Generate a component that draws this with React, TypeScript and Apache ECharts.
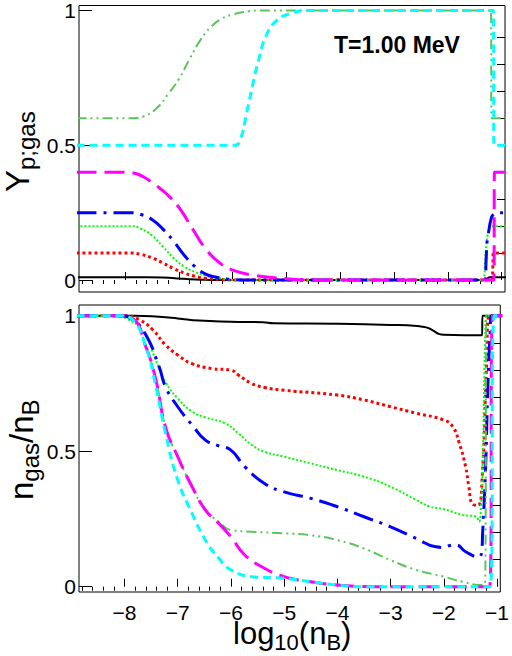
import React, { useEffect, useRef } from 'react';
import * as echarts from 'echarts';

const FONT = "'Liberation Sans', Arial, Helvetica, sans-serif";

// axis extents
const X_MIN = -8.855;
const X_MAX = -0.939;
const TOP_Y_MIN = -0.0444;
const TOP_Y_MAX = 1.0185;
const BOT_Y_MIN = -0.0196;
const BOT_Y_MAX = 1.0395;

// tick values
const xMajorTicks = [-8, -7, -6, -5, -4, -3, -2, -1];
const xMinorTicks = [
  -8.8, -8.6, -8.4, -8.2, -7.8, -7.6, -7.4, -7.2, -6.8, -6.6, -6.4, -6.2,
  -5.8, -5.6, -5.4, -5.2, -4.8, -4.6, -4.4, -4.2, -3.8, -3.6, -3.4, -3.2,
  -2.8, -2.6, -2.4, -2.2, -1.8, -1.6, -1.4, -1.2,
];
const yMajorTicks = [0, 0.5, 1];
const yMinorTicks = [0.1, 0.2, 0.3, 0.4, 0.6, 0.7, 0.8, 0.9];

// ---- top panel: Y_p;gas ----
const topBlack = [[-8.9, 0.01], [-7.6, 0.01], [-7.3, 0.009], [-7.0, 0.006], [-6.8, 0.003], [-6.5, 0.001], [-6.2, 0], [-1.28, 0], [-1.25, 0.008], [-1.22, 0.01], [-0.9, 0.01]];
const topRed = [[-8.9, 0.1], [-7.9, 0.1], [-7.7, 0.095], [-7.5, 0.082], [-7.3, 0.064], [-7.1, 0.043], [-6.9, 0.026], [-6.7, 0.014], [-6.5, 0.006], [-6.2, 0.002], [-5.9, 0], [-1.18, 0], [-1.165, 0.05], [-1.155, 0.1], [-0.9, 0.1]];
const topGreen = [[-8.9, 0.2], [-7.9, 0.2], [-7.7, 0.19], [-7.5, 0.165], [-7.3, 0.125], [-7.1, 0.082], [-6.9, 0.05], [-6.7, 0.03], [-6.5, 0.016], [-6.2, 0.005], [-5.9, 0], [-1.35, 0], [-1.3, 0.1], [-1.26, 0.17], [-1.22, 0.195], [-1.18, 0.2], [-0.9, 0.2]];
const topBlue = [[-8.9, 0.25], [-7.9, 0.25], [-7.7, 0.243], [-7.5, 0.225], [-7.3, 0.19], [-7.1, 0.145], [-6.9, 0.092], [-6.7, 0.05], [-6.5, 0.022], [-6.3, 0.01], [-6.0, 0.002], [-5.7, 0], [-1.31, 0], [-1.29, 0.074], [-1.27, 0.148], [-1.25, 0.17], [-1.2, 0.225], [-1.15, 0.245], [-1.09, 0.25], [-0.9, 0.25]];
const topDdg = [[-8.9, 0.6], [-7.9, 0.6], [-7.66, 0.607], [-7.4, 0.64], [-7.2, 0.69], [-7.0, 0.745], [-6.8, 0.82], [-6.6, 0.89], [-6.4, 0.94], [-6.2, 0.97], [-6.0, 0.985], [-5.7, 0.997], [-5.5, 1.0], [-1.2, 1.0], [-1.19, 0.6], [-0.9, 0.6]];
const topMagenta = [[-8.9, 0.4], [-7.97, 0.4], [-7.8, 0.395], [-7.66, 0.383], [-7.45, 0.355], [-7.23, 0.32], [-7.0, 0.27], [-6.73, 0.185], [-6.48, 0.11], [-6.23, 0.062], [-6.0, 0.037], [-5.61, 0.018], [-5.0, 0.005], [-4.5, 0], [-1.145, 0], [-1.135, 0.4], [-0.9, 0.4]];
const topCyan = [[-8.9, 0.5], [-5.96, 0.5], [-5.86, 0.52], [-5.74, 0.62], [-5.61, 0.74], [-5.52, 0.815], [-5.37, 0.91], [-5.18, 0.963], [-4.94, 0.988], [-4.6, 1.0], [-1.155, 1.0], [-1.145, 0.5], [-0.9, 0.5]];

// ---- bottom panel: n_gas/n_B ----
const botBlack = [[-8.9, 1], [-7.8, 1], [-7.35, 0.996], [-7.0, 0.99], [-6.6, 0.982], [-6.0, 0.978], [-5.4, 0.976], [-5.2, 0.972], [-4.0, 0.97], [-3.0, 0.966], [-2.5, 0.962], [-2.33, 0.957], [-2.2, 0.945], [-2.08, 0.932], [-2.0, 0.93], [-1.28, 0.928], [-1.275, 1], [-0.9, 1]];
const botRed = [[-8.9, 1], [-8.0, 1], [-7.72, 0.985], [-7.47, 0.948], [-7.23, 0.892], [-7.0, 0.855], [-6.73, 0.823], [-6.36, 0.805], [-6.0, 0.799], [-5.86, 0.781], [-5.61, 0.75], [-5.37, 0.735], [-5.0, 0.725], [-4.0, 0.707], [-3.5, 0.689], [-3.0, 0.664], [-2.52, 0.64], [-2.0, 0.615], [-1.83, 0.59], [-1.71, 0.53], [-1.59, 0.443], [-1.53, 0.37], [-1.46, 0.305], [-1.36, 0.3], [-1.28, 0.4], [-1.2, 0.8], [-1.14, 1], [-0.9, 1]];
const botGreen = [[-8.9, 1], [-8.2, 1], [-7.97, 0.99], [-7.66, 0.942], [-7.41, 0.836], [-7.23, 0.756], [-7.0, 0.695], [-6.73, 0.646], [-6.48, 0.625], [-6.11, 0.603], [-5.86, 0.566], [-5.61, 0.523], [-5.37, 0.498], [-5.0, 0.48], [-4.5, 0.455], [-4.0, 0.43], [-3.5, 0.406], [-3.0, 0.369], [-2.52, 0.32], [-2.27, 0.296], [-2.0, 0.286], [-1.65, 0.265], [-1.4, 0.259], [-1.34, 0.24], [-1.3, 0.3], [-1.27, 0.45], [-1.22, 0.95], [-1.2, 1], [-0.9, 1]];
const botBlue = [[-8.9, 1], [-8.1, 1], [-7.85, 0.985], [-7.6, 0.93], [-7.35, 0.812], [-7.23, 0.738], [-7.0, 0.664], [-6.73, 0.597], [-6.48, 0.541], [-6.23, 0.52], [-6.0, 0.504], [-5.74, 0.443], [-5.37, 0.381], [-5.0, 0.35], [-4.5, 0.326], [-4.0, 0.295], [-3.5, 0.258], [-3.0, 0.221], [-2.52, 0.178], [-2.15, 0.147], [-2.0, 0.145], [-1.88, 0.152], [-1.77, 0.154], [-1.59, 0.129], [-1.34, 0.11], [-1.29, 0.13], [-1.27, 0.2], [-1.22, 0.41], [-1.17, 0.75], [-1.13, 0.935], [-1.1, 1], [-0.9, 1]];
const botDdg = [[-8.9, 1], [-8.1, 1], [-7.85, 0.99], [-7.6, 0.886], [-7.41, 0.763], [-7.23, 0.59], [-7.0, 0.48], [-6.73, 0.369], [-6.48, 0.283], [-6.23, 0.24], [-6.0, 0.209], [-5.61, 0.203], [-5.0, 0.197], [-4.5, 0.19], [-4.0, 0.172], [-3.5, 0.141], [-3.0, 0.098], [-2.52, 0.062], [-2.0, 0.037], [-1.65, 0.018], [-1.28, 0.006], [-1.22, 0.03], [-1.2, 1], [-0.9, 1]];
const botMagenta = [[-8.9, 1], [-8.1, 1], [-7.85, 0.99], [-7.6, 0.886], [-7.41, 0.763], [-7.23, 0.59], [-7.0, 0.48], [-6.73, 0.369], [-6.48, 0.283], [-6.23, 0.234], [-6.0, 0.184], [-5.74, 0.117], [-5.37, 0.068], [-5.0, 0.037], [-4.5, 0.018], [-4.0, 0.006], [-3.5, 0.001], [-3.0, 0], [-1.14, 0], [-1.08, 1], [-0.9, 1]];
const botCyan = [[-8.9, 1], [-8.1, 1], [-7.85, 0.985], [-7.6, 0.886], [-7.41, 0.738], [-7.23, 0.566], [-7.0, 0.394], [-6.73, 0.27], [-6.48, 0.172], [-6.23, 0.105], [-6.0, 0.062], [-5.61, 0.037], [-5.0, 0.031], [-4.5, 0.018], [-4.0, 0.006], [-3.5, 0], [-1.13, 0], [-1.05, 1], [-0.9, 1]];

const topData = [topBlack, topRed, topGreen, topBlue, topDdg, topMagenta, topCyan];
const botData = [botBlack, botRed, botGreen, botBlue, botDdg, botMagenta, botCyan];

// line styles (color, width, dash) for the seven curves
const lineStyles = [
  { color: '#000000', width: 2, type: 'solid' as any },
  { color: '#ff0000', width: 3, type: [3, 3] },
  { color: '#00ff00', width: 2, type: [2, 2] },
  { color: '#0000ff', width: 3, type: [20, 7, 3, 7] },
  { color: '#5cc45c', width: 2, type: [10, 4, 2, 4, 2, 4] },
  { color: '#ff00ff', width: 3, type: [20, 8] },
  { color: '#00ffff', width: 3, type: [8, 5] },
];

const GRID_LEFT = 79;
const GRID_WIDTH = 426;

function fmtX(v: number) {
  return v < 0 ? '\u2212' + Math.abs(v) : String(v);
}

function makeXAxes(gridIndex: number, showLabels: boolean) {
  return [
    {
      type: 'value', gridIndex, min: X_MIN, max: X_MAX,
      axisLine: { show: false }, splitLine: { show: false },
      axisTick: { show: true, inside: true, length: 8, customValues: xMajorTicks, lineStyle: { color: '#000', width: 1 } },
      axisLabel: { show: showLabels, customValues: xMajorTicks, formatter: fmtX, fontSize: 21, lineHeight: 16, fontFamily: FONT, color: '#000', margin: 12.5 },
    },
    {
      type: 'value', gridIndex, min: X_MIN, max: X_MAX,
      axisLine: { show: false }, splitLine: { show: false },
      axisTick: { show: true, inside: true, length: 4, customValues: xMinorTicks, lineStyle: { color: '#000', width: 1 } },
      axisLabel: { show: false },
    },
  ];
}

function makeYAxes(gridIndex: number, min: number, max: number) {
  return [
    {
      type: 'value', gridIndex, min, max,
      axisLine: { show: false }, splitLine: { show: false },
      axisTick: { show: true, inside: true, length: 13, customValues: yMajorTicks, lineStyle: { color: '#000', width: 1 } },
      axisLabel: { show: true, customValues: yMajorTicks, formatter: (v: number) => String(v), fontSize: 21, fontFamily: FONT, color: '#000', margin: 3 },
    },
    {
      type: 'value', gridIndex, min, max,
      axisLine: { show: false }, splitLine: { show: false },
      axisTick: { show: true, inside: true, length: 8, customValues: yMinorTicks, lineStyle: { color: '#000', width: 1 } },
      axisLabel: { show: false },
    },
  ];
}

type Seg = { t: string; size: number; dy: number };

function buildTitle(segs: Seg[], x: number, y: number, rotation: number) {
  const canvas = document.createElement('canvas');
  const ctx = canvas.getContext('2d')!;
  let cx = 0;
  const children: any[] = [];
  for (const s of segs) {
    children.push({
      type: 'text',
      x: cx,
      y: s.dy - 0.3465 * s.size,
      style: {
        text: s.t, fontSize: s.size, fontFamily: FONT, fill: '#000', lineHeight: Math.round(s.size * 0.7),
        align: 'left', verticalAlign: 'middle', textAlign: 'left', textVerticalAlign: 'middle',
      },
    });
    ctx.font = `${s.size}px ${FONT}`;
    cx += ctx.measureText(s.t).width;
  }
  return { type: 'group', x, y, rotation, children };
}

export default function App() {
  const ref = useRef<HTMLDivElement>(null);
  useEffect(() => {
    if (!ref.current) return;
    const chart = echarts.init(ref.current, undefined, { renderer: 'svg' });
    const series: any[] = [];
    topData.forEach((d, i) => {
      series.push({
        type: 'line', xAxisIndex: 0, yAxisIndex: 0, data: d, showSymbol: false, symbol: 'none',
        smooth: 0.5, clip: true, lineStyle: lineStyles[i], z: 2 + i,
      });
    });
    botData.forEach((d, i) => {
      series.push({
        type: 'line', xAxisIndex: 2, yAxisIndex: 2, data: d, showSymbol: false, symbol: 'none',
        smooth: 0.5, clip: true, lineStyle: lineStyles[i], z: 2 + i,
      });
    });
    chart.setOption({
      animation: false,
      backgroundColor: '#ffffff',
      grid: [
        { left: GRID_LEFT, width: GRID_WIDTH, top: 5, height: 287, show: true, borderColor: '#000', borderWidth: 1, backgroundColor: 'transparent' },
        { left: GRID_LEFT, width: GRID_WIDTH, top: 305, height: 287, show: true, borderColor: '#000', borderWidth: 1, backgroundColor: 'transparent' },
      ],
      xAxis: [...makeXAxes(0, false), ...makeXAxes(1, true)],
      yAxis: [...makeYAxes(0, TOP_Y_MIN, TOP_Y_MAX), ...makeYAxes(1, BOT_Y_MIN, BOT_Y_MAX)],
      series,
      graphic: [
        {
          type: 'text', left: 334, top: 33,
          style: { text: 'T=1.00 MeV', fontSize: 23, fontWeight: 'bold', fontFamily: FONT, fill: '#000' },
        },
        buildTitle([{ t: 'Y', size: 33, dy: 0 }, { t: 'p;gas', size: 24, dy: 6 }], 29, 192, Math.PI / 2),
        buildTitle([
          { t: 'n', size: 33, dy: 0 }, { t: 'gas', size: 24, dy: 6 }, { t: '/', size: 33, dy: 0 },
          { t: 'n', size: 33, dy: 0 }, { t: 'B', size: 24, dy: 6 },
        ], 33, 500, Math.PI / 2),
        buildTitle([
          { t: 'log', size: 31, dy: 0 }, { t: '10', size: 22, dy: 6 }, { t: '(', size: 31, dy: 0 },
          { t: 'n', size: 31, dy: 0 }, { t: 'B', size: 22, dy: 6 }, { t: ')', size: 31, dy: 0 },
        ], 233, 644, 0),
      ],
    });
    return () => chart.dispose();
  }, []);
  return <div ref={ref} style={{ position: 'absolute', left: 0, top: 0, width: 512, height: 656 }} />;
}
